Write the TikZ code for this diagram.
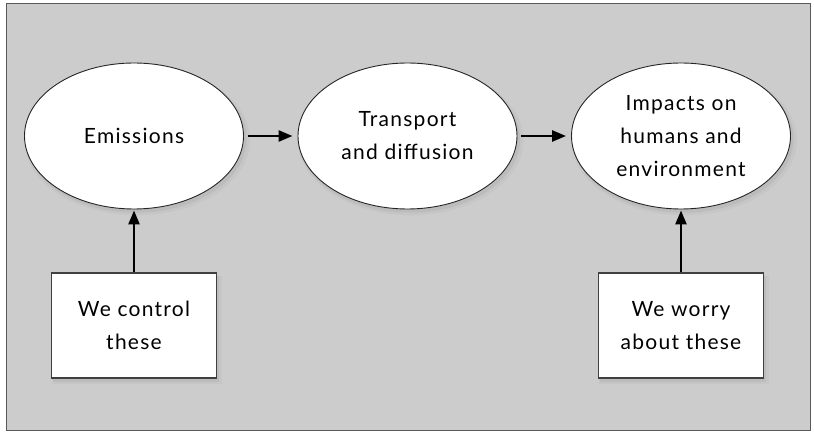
\documentclass[tikz,border=0pt]{standalone}
\usepackage{fontspec}
\setmainfont[LetterSpace=6]{Lato}
\usetikzlibrary{arrows.meta,positioning,shadows,shapes.geometric}
\colorlet{bg}{black!20}
\tikzset{
  soft/.style = { drop shadow={shadow xshift=2pt, shadow yshift=-3pt, opacity=.12, shadow scale=1.01},
    drop shadow={shadow xshift=3pt, shadow yshift=-4pt, opacity=.08, shadow scale=1.03} },
  loc/.style   = { draw=black!85, ellipse, fill=white, line width=0.9pt, soft,
    minimum width=219pt, minimum height=146pt, inner sep=0pt, align=center },
  sqloc/.style = { draw=black!75, rectangle, fill=white, line width=1.1pt, soft,
    minimum width=165pt, minimum height=105pt, inner sep=0pt, align=center },
  flow/.style  = { -{Triangle[length=14pt,width=11pt]}, line width=2.5pt }
}

\begin{document}
\begin{tikzpicture}[x=1pt,y=-1pt,on grid,node distance=273.5pt,
    font=\fontsize{21pt}{33pt}\selectfont]
    \useasboundingbox (0,0) rectangle (814,435);
    \draw[draw=black!65, fill=bg, line width=1pt] (6,4) rectangle (810,431);
    % chain of causes
    \node[loc] (e1) at (134,136) {Emissions};
    \node[loc, right=of e1] (e2) {Transport\\and diffusion};
    \node[loc, right=of e2] (e3) {Impacts on\\humans and\\environment};
    % what we act on / care about
    \node[sqloc, below=189.5pt of e1] (b1) {We control\\these};
    \node[sqloc, below=189.5pt of e3] (b2) {We worry\\about these};
    \path[flow, shorten <=4pt, shorten >=5pt] (e1) edge (e2);
    \path[flow, shorten <=4pt, shorten >=5pt] (e2) edge (e3);
    \path[flow, shorten >=1pt] (b1) edge (e1);
    \path[flow, shorten >=1pt] (b2) edge (e3);
  \end{tikzpicture}
\end{document}
